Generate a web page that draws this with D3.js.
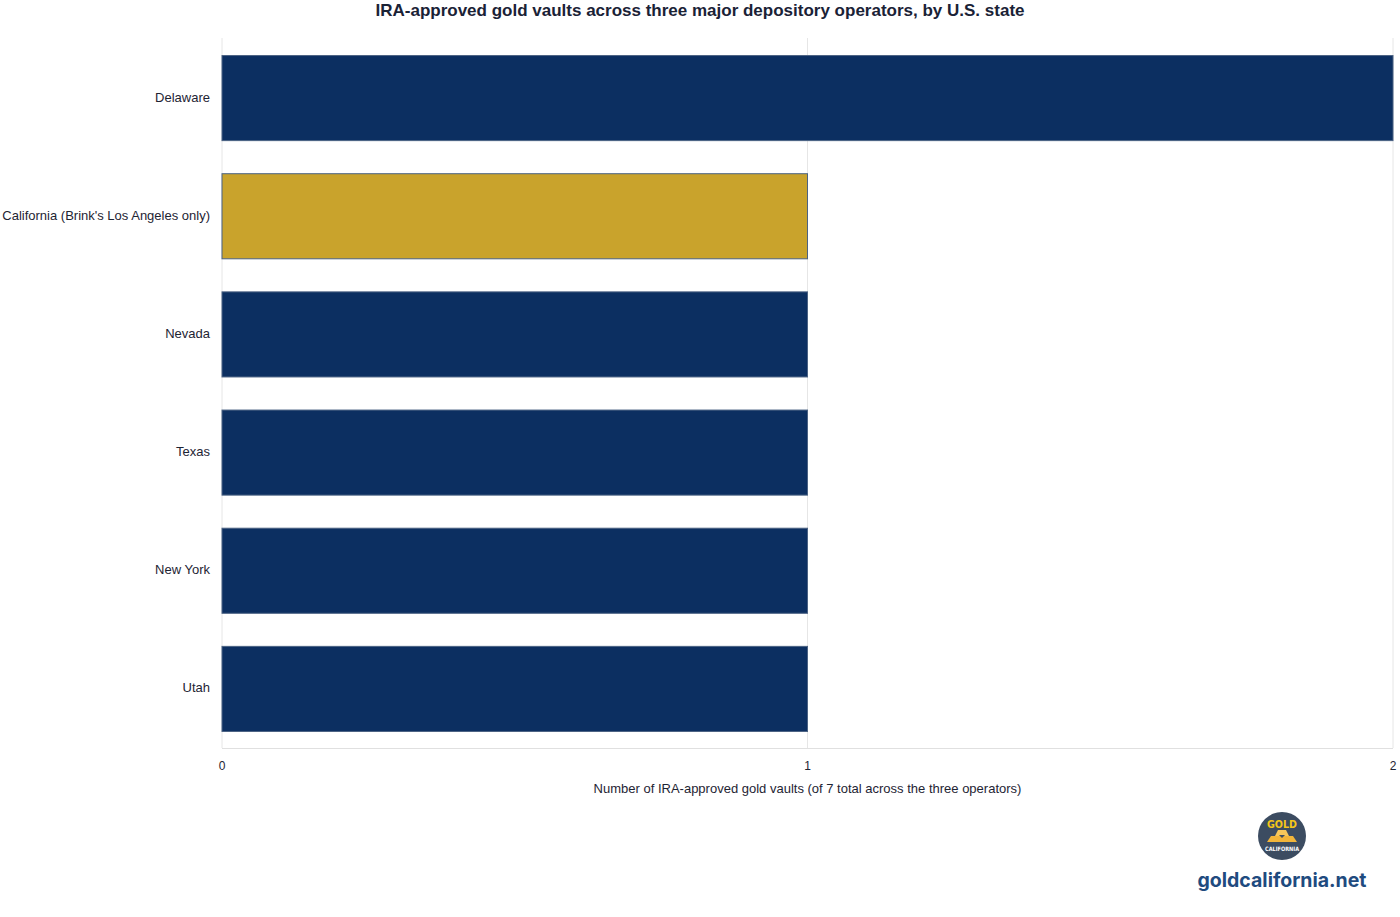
<!DOCTYPE html>
<html><head><meta charset="utf-8">
<script src="https://cdn.jsdelivr.net/npm/d3@7"></script>
<style>body{margin:0;background:#fff;font-family:"Liberation Sans",Arial,sans-serif;}</style>
</head><body>
<svg id="c" width="1400" height="917"></svg>
<script>
const categories = ["Delaware","California (Brink's Los Angeles only)","Nevada","Texas","New York","Utah"];
const values = [2,1,1,1,1,1];
const highlight = [false,true,false,false,false,false];
const xTicks = [0,1,2];
const title = "IRA-approved gold vaults across three major depository operators, by U.S. state";
const xLabel = "Number of IRA-approved gold vaults (of 7 total across the three operators)";

const svg = d3.select("#c");
const m = {l:222, r:1393, t:39, b:748};
const x = d3.scaleLinear().domain([0,2]).range([m.l, m.r]);
const y = d3.scaleBand().domain(categories).range([m.t, m.b]).paddingInner(0.28).paddingOuter(0.14);

// grid
svg.append("g").selectAll("line").data(xTicks).join("line")
  .attr("x1", d=>x(d)).attr("x2", d=>x(d)).attr("y1", m.t-1).attr("y2", m.b)
  .attr("stroke", "#e6e6e6").attr("stroke-width", 1);
svg.append("line").attr("x1", m.l).attr("x2", m.r).attr("y1", m.b+0.5).attr("y2", m.b+0.5)
  .attr("stroke","#e0e0e0");

// bars
svg.append("g").selectAll("rect").data(categories).join("rect")
  .attr("x", x(0)).attr("y", d=>y(d))
  .attr("width", (d,i)=>x(values[i])-x(0)).attr("height", y.bandwidth())
  .attr("fill", (d,i)=>highlight[i] ? "#c9a32c" : "#0c2f61")
  .attr("stroke", "#4b6283").attr("stroke-width", 1);

// y labels
svg.append("g").selectAll("text").data(categories).join("text")
  .attr("x", m.l-12).attr("y", d=>y(d)+y.bandwidth()/2)
  .attr("text-anchor","end").attr("dominant-baseline","middle")
  .attr("font-size", 13).attr("fill","#1e2433").text(d=>d);

// x ticks
svg.append("g").selectAll("text").data(xTicks).join("text")
  .attr("x", d=>x(d)).attr("y", m.b+22)
  .attr("text-anchor","middle").attr("font-size", 12).attr("fill","#1e2433").text(d=>d);

svg.append("text").attr("x", (m.l+m.r)/2).attr("y", 793).attr("text-anchor","middle")
  .attr("font-size", 13).attr("fill","#1e2433").text(xLabel);

svg.append("text").attr("x", 700).attr("y", 16).attr("text-anchor","middle")
  .attr("font-size", 17).attr("font-weight","bold").attr("fill","#1a2236").text(title);

// logo
const lg = svg.append("g").attr("transform","translate(1282,836)");
lg.append("circle").attr("r",24).attr("fill","#3c4c61");
lg.append("text").attr("y",-8).attr("text-anchor","middle").attr("font-size",11).attr("font-weight","bold")
  .attr("fill","#f5c518").attr("font-family","DejaVu Sans").attr("textLength",30).attr("lengthAdjust","spacingAndGlyphs").text("GOLD");
lg.append("path").attr("d","M-15,6 L-11,0 L11,0 L15,6 Z").attr("fill","#f2b53a");
lg.append("path").attr("d","M-7,0 L-4,-6 L4,-6 L7,0 Z").attr("fill","#f7c75a");
lg.append("path").attr("d","M-3,-1 L3,-1 L0,2 Z").attr("fill","#3c4c61");
lg.append("text").attr("y",15).attr("text-anchor","middle").attr("font-size",6).attr("font-weight","bold")
  .attr("fill","#fff").attr("font-family","DejaVu Sans").attr("textLength",34).attr("lengthAdjust","spacingAndGlyphs").text("CALIFORNIA");
svg.append("text").attr("x",1282).attr("y",887).attr("text-anchor","middle")
  .attr("font-size",19.5).attr("font-weight","bold").attr("fill","#1f4b7f")
  .attr("font-family","Inter, 'Noto Sans', sans-serif").text("goldcalifornia.net");
</script>
</body></html>
